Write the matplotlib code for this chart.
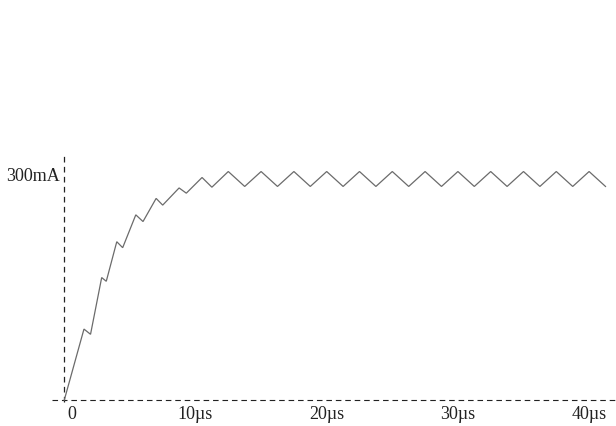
import matplotlib
matplotlib.use("Agg")
import matplotlib.pyplot as plt

# ---- data ----
time_us = [0, 1.5, 2.0, 2.85, 3.2, 4.0, 4.45, 5.45, 6.0, 7.0, 7.5, 8.75, 9.3,
           10.5, 11.25, 12.5, 13.75, 15, 16.25, 17.5, 18.75, 20, 21.25, 22.5,
           23.75, 25, 26.25, 27.5, 28.75, 30, 31.25, 32.5, 33.75, 35, 36.25,
           37.5, 38.75, 40, 41.25]
current_mA = [0, 95, 88, 164, 159, 212, 204, 248, 239, 270, 261, 284, 277,
              298, 285, 306, 286, 306, 286, 306, 286, 306, 286, 306,
              286, 306, 286, 306, 286, 306, 286, 306, 286, 306, 286,
              306, 286, 306, 286]
x_tick_values = [0, 10, 20, 30, 40]
x_tick_labels = ["0", "10µs", "20µs", "30µs", "40µs"]
y_label_value = 300
y_label_text = "300mA"

# ---- figure ----
fig = plt.figure(figsize=(6.16, 4.26), dpi=100)
ax = fig.add_axes([0, 0, 1, 1])
ax.set_xlim(-4.9, 42.05)
ax.set_ylim(-34.8, 535.7)
ax.axis("off")

font = dict(family=["Liberation Serif", "DejaVu Serif"], size=13, color="#222222")

# dashed axes
ax.plot([-0.9, 42.05], [0, 0], color="#222222", lw=0.8,
        linestyle=(0, (5, 3.5)), solid_capstyle="butt", dash_capstyle="butt")
ax.plot([0, 0], [-3, 330], color="#222222", lw=0.9,
        linestyle=(0, (4.5, 3.5)), dash_capstyle="butt")

# waveform
ax.plot(time_us, current_mA, color="#6b6b6b", lw=0.9, solid_joinstyle="miter")

# labels
for v, lab in zip(x_tick_values, x_tick_labels):
    dx = 0.55 if v == 0 else 0
    ax.text(v + dx, -19, lab, ha="center", va="center", **font)
ax.text(-0.3, y_label_value, y_label_text, ha="right", va="center", **font)

fig.savefig("out.png", dpi=100)
